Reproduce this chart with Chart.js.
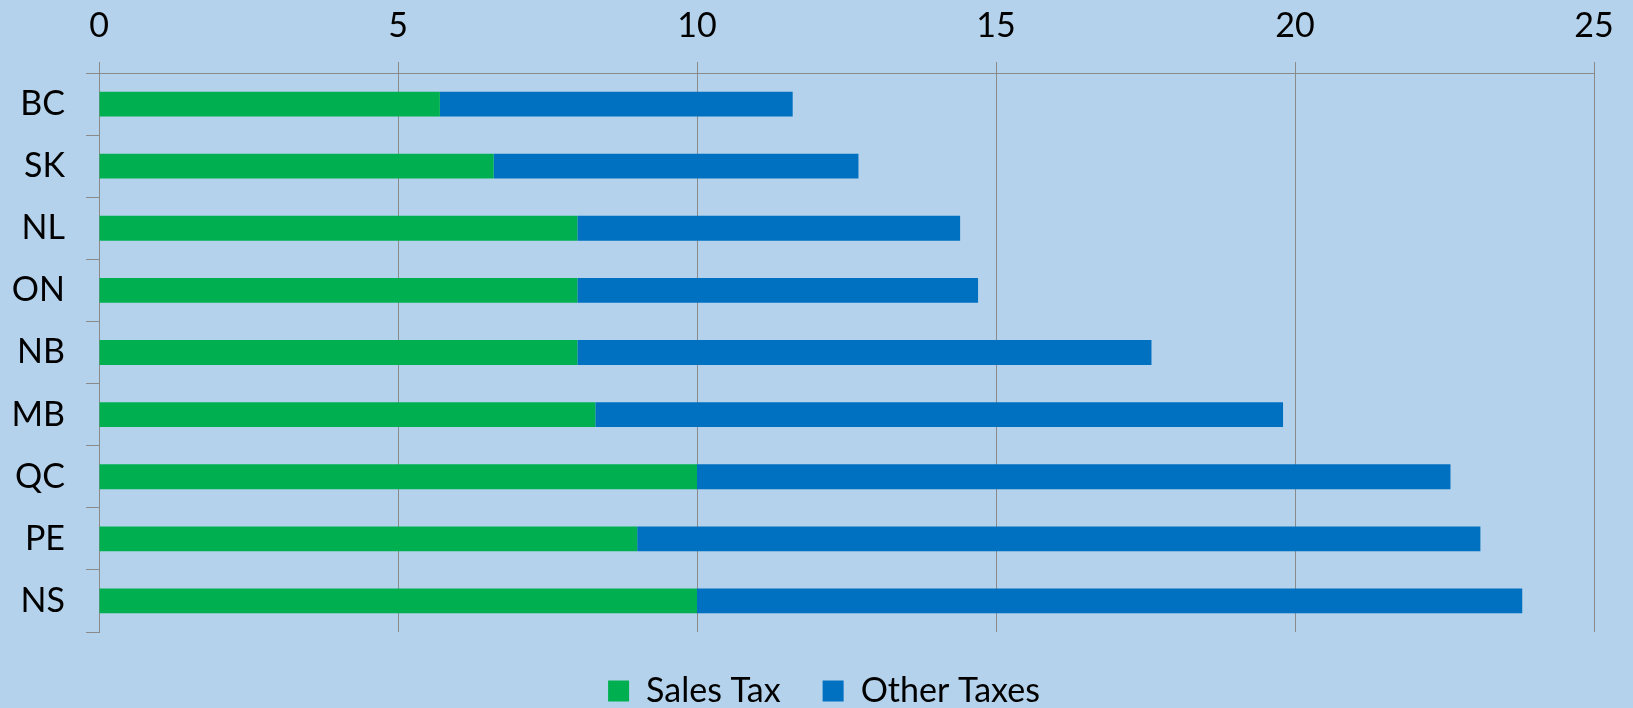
<!DOCTYPE html>
<html>
<head>
<meta charset="utf-8">
<script src="https://cdn.jsdelivr.net/npm/chart.js@4.4.1/dist/chart.umd.min.js"></script>
<style>
  html, body { margin: 0; padding: 0; background: #B4D2EB; }
  #grafico { display: block; }
</style>
</head>
<body>
<canvas id="grafico" width="1633" height="708"></canvas>
<script>
/* DADOS */
const provincias = ["BC", "SK", "NL", "ON", "NB", "MB", "QC", "PE", "NS"];
const salesTax = [5.7, 6.6, 8, 8, 8, 8.3, 10, 9, 10];
const otherTaxes = [5.9, 6.1, 6.4, 6.7, 9.6, 11.5, 12.6, 14.1, 13.8];
const xTicks = [0, 5, 10, 15, 20, 25];

const fonte = { family: "Lato", size: 34 };
const cinza = "#8A8A8A";

/* legenda um pouco para a direita, como no original */
const moverLegenda = {
  id: "moverLegenda",
  afterLayout(chart) { chart.legend.left += 54; }
};

new Chart(document.getElementById("grafico"), {
  type: "bar",
  data: {
    labels: provincias,
    datasets: [
      { label: "Sales Tax", data: salesTax, backgroundColor: "#00B050",
        barPercentage: 0.4, categoryPercentage: 1 },
      { label: "Other Taxes", data: otherTaxes, backgroundColor: "#0070C0",
        barPercentage: 0.4, categoryPercentage: 1 }
    ]
  },
  plugins: [moverLegenda],
  options: {
    indexAxis: "y",
    responsive: false,
    animation: false,
    devicePixelRatio: 1,
    layout: { padding: { left: 0, right: 39, top: 0, bottom: -10 } },
    plugins: {
      tooltip: { enabled: false },
      legend: {
        position: "bottom",
        labels: { boxWidth: 21, boxHeight: 21, padding: 42, color: "#000", font: fonte }
      }
    },
    scales: {
      x: {
        position: "top",
        stacked: true,
        min: 0,
        max: 25,
        afterBuildTicks: s => { s.ticks = xTicks.map(v => ({ value: v })); },
        afterFit: s => { s.height = 73; },
        ticks: { color: "#000", font: fonte, padding: 16 },
        grid: { color: cinza, lineWidth: 1, tickLength: 11 },
        border: { color: cinza, width: 1 }
      },
      y: {
        stacked: true,
        offset: true,
        afterFit: s => { s.width = 99; },
        ticks: { color: "#000", font: fonte, padding: 21 },
        grid: { offset: true, drawOnChartArea: false, color: cinza, tickLength: 13 },
        border: { color: cinza, width: 1 }
      }
    }
  }
});
</script>
</body>
</html>
